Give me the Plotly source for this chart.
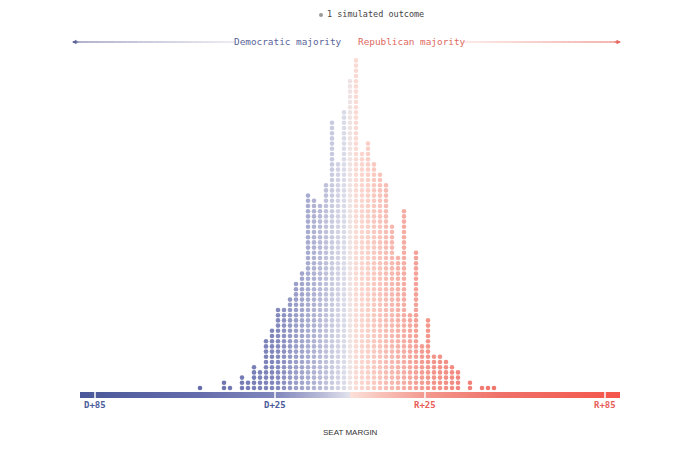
import numpy as np
import plotly.graph_objects as go

# ---- data ----
margins = list(range(-50, 50, 2))  # seat margin of each column (negative = Democratic)
counts = [1, 0, 0, 0, 2, 1, 0, 3, 2, 5,
          4, 10, 12, 16, 16, 18, 21, 23, 38, 37,
          36, 40, 52, 44, 54, 60, 64, 46, 48, 44,
          42, 40, 32, 26, 35, 15, 27, 9, 14, 7,
          7, 6, 5, 4, 0, 2, 0, 1, 1, 1]
tick_vals = [-85, -25, 25, 85]
tick_text = ["D+85", "D+25", "R+25", "R+85"]
axis_min, axis_max = -90, 90

# page body has an 8px margin; the figure fills the rest of the 700x450 window
OFF = 8
W, H = 700 - OFF, 450 - OFF
def px(x):
    return (x - OFF) / W
def py(y):
    return 1 - (y - OFF) / H

stops = [(-90, "#4a5899"), (-50, "#656cab"), (-25, "#8187bc"), (-10, "#b6b9d7"),
         (-0.02, "#e3e3ed"), (0.02, "#fbe0d9"), (10, "#f8c3ba"), (25, "#f3998f"),
         (50, "#ef7169"), (90, "#f4564b")]
cscale = [[(m - axis_min) / (axis_max - axis_min), c] for m, c in stops]

xs, ys = [], []
for m, c in zip(margins, counts):
    for i in range(1, c + 1):
        xs.append(m)
        ys.append(i)

spacing = 5.2  # px per dot row
base_py = 388
def yval(p):
    return (base_py - p) / spacing + 1

fig = go.Figure()

edges = np.linspace(axis_min, axis_max, 361)
centers = (edges[:-1] + edges[1:]) / 2
fig.add_trace(go.Heatmap(
    x=edges, y=[yval(398), yval(392)], z=[centers],
    colorscale=cscale, zmin=axis_min, zmax=axis_max, showscale=False,
    hoverinfo="skip"))

fig.add_trace(go.Scatter(
    x=xs, y=ys, mode="markers",
    marker=dict(size=4.6, color=xs, colorscale=cscale, cmin=axis_min, cmax=axis_max,
                line=dict(width=0)),
    hoverinfo="skip", showlegend=False))

shapes = []
for t in tick_vals:
    shapes.append(dict(type="line", xref="x", yref="y", x0=t, x1=t,
                       y0=yval(400), y1=yval(390), line=dict(color="white", width=1.5)))

def lerp_col(c1, c2, f):
    a = [int(c1[i:i + 2], 16) for i in (1, 3, 5)]
    b = [int(c2[i:i + 2], 16) for i in (1, 3, 5)]
    return "rgb(%d,%d,%d)" % tuple(round(a[k] + (b[k] - a[k]) * f) for k in range(3))

def grad_line(x0, x1, c0, c1, n=30):
    for k in range(n):
        a = x0 + (x1 - x0) * k / n
        b = x0 + (x1 - x0) * (k + 1) / n
        shapes.append(dict(type="line", xref="paper", yref="paper",
                           x0=px(a), x1=px(b), y0=py(42), y1=py(42),
                           line=dict(color=lerp_col(c0, c1, (k + 0.5) / n), width=1)))

grad_line(73, 236, "#5d6396", "#d9dae7")
grad_line(464, 619, "#f7d4ce", "#e8655c")

annotations = []
annotations.append(dict(x=px(72), y=py(42), xref="paper", yref="paper", text="",
                        showarrow=True, arrowhead=2, arrowsize=0.9, arrowwidth=1,
                        arrowcolor="#5d6396", ax=8, ay=0))
annotations.append(dict(x=px(621), y=py(42), xref="paper", yref="paper", text="",
                        showarrow=True, arrowhead=2, arrowsize=0.9, arrowwidth=1,
                        arrowcolor="#e8655c", ax=-8, ay=0))

mono = "DejaVu Sans Mono"
annotations.append(dict(x=px(344), y=py(42), xref="paper", yref="paper",
                        text="Democratic majority", showarrow=False, xanchor="right",
                        yanchor="middle", font=dict(family=mono, size=9.4, color="#5a6599")))
annotations.append(dict(x=px(356), y=py(42), xref="paper", yref="paper",
                        text="Republican majority", showarrow=False, xanchor="left",
                        yanchor="middle", font=dict(family=mono, size=9.4, color="#e06a62")))
annotations.append(dict(x=px(325), y=py(14), xref="paper", yref="paper",
                        text="1 simulated outcome", showarrow=False, xanchor="left",
                        yanchor="middle", font=dict(family=mono, size=8.5, color="#444444")))
shapes.append(dict(type="circle", xref="paper", yref="paper",
                   x0=px(319), x1=px(323), y0=py(13), y1=py(17),
                   fillcolor="#9a9a9a", line=dict(width=0)))

for t, lab in zip(tick_vals, tick_text):
    col = "#4b5b9b" if t < 0 else "#e8605a"
    annotations.append(dict(x=t, y=py(405), xref="x", yref="paper", text="<b>%s</b>" % lab,
                            showarrow=False, xanchor="center", yanchor="middle",
                            font=dict(family=mono, size=9, color=col)))

annotations.append(dict(x=px(350), y=py(432), xref="paper", yref="paper",
                        text="SEAT MARGIN", showarrow=False, xanchor="center",
                        yanchor="middle", font=dict(family="Liberation Sans", size=8, color="#333333")))

fig.update_layout(
    width=W, height=H, margin=dict(l=0, r=0, t=0, b=0),
    paper_bgcolor="white", plot_bgcolor="white",
    xaxis=dict(range=[(OFF - 350) / 3, (700 - 350) / 3], visible=False, fixedrange=True),
    yaxis=dict(range=[yval(450), yval(OFF)], visible=False, fixedrange=True),
    shapes=shapes, annotations=annotations, showlegend=False,
)

fig.write_html("out.html")
